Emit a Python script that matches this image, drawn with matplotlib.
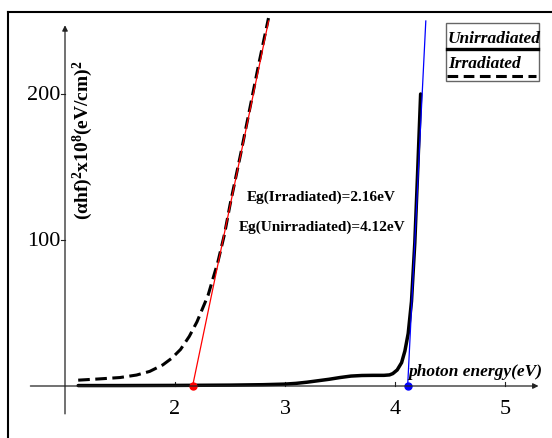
import numpy as np
import matplotlib
matplotlib.use("Agg")
import matplotlib.pyplot as plt
from matplotlib.lines import Line2D
from matplotlib.patches import Rectangle

plt.rcParams['font.family'] = ['Liberation Serif', 'DejaVu Serif']
plt.rcParams['mathtext.fontset'] = 'custom'
plt.rcParams['mathtext.rm'] = 'Liberation Serif'
plt.rcParams['mathtext.bf'] = 'Liberation Serif:bold'
plt.rcParams['mathtext.it'] = 'Liberation Serif:italic'

# данные
irr_x = [1.12, 1.3, 1.5, 1.65, 1.77, 1.89, 1.97, 2.05, 2.13, 2.2, 2.3, 2.39, 2.45, 2.5, 2.6, 2.68, 2.76, 2.85]
irr_y = [4.0, 4.8, 5.8, 7.5, 10, 14.5, 19, 25, 34, 44, 62, 85, 104, 124, 160, 190, 220, 252]

unirr_x = [1.12, 1.5, 2.0, 2.5, 2.8, 3.0, 3.1, 3.2, 3.3, 3.4, 3.5, 3.6, 3.7, 3.8, 3.9, 3.95, 3.98,
           4.02, 4.06, 4.09, 4.12, 4.15, 4.18, 4.205, 4.233]
unirr_y = [0.3, 0.3, 0.4, 0.6, 0.9, 1.3, 1.8, 2.6, 3.6, 4.6, 5.8, 6.8, 7.2, 7.3, 7.3, 7.6, 8.5,
           11, 16, 24, 36, 58, 98, 145, 200]

eg_irr = 2.16
eg_unirr = 4.115
slope_irr = 362.0
slope_unirr = 1515.0

x_ticks = [2, 3, 4, 5]
y_ticks = [100, 200]

W, H = 552, 439
fig = plt.figure(figsize=(W / 100, H / 100), dpi=100)
ax = fig.add_axes([0, 0, 1, 1])
# пиксели: x = 175 + (x-2)*110, y = 387 - y*1.46
ax.set_xlim(2 - 175 / 110, 2 + (W - 175) / 110)
ax.set_ylim(-(H - 387) / 1.46, 387 / 1.46)
ax.axis('off')


def fx(px):
    return px / W


def fy(py):
    return 1 - py / H


# рамка (только верх и лево)
fig.add_artist(Line2D([fx(8), fx(552)], [fy(13), fy(13)], color='black', lw=1.5))
fig.add_artist(Line2D([fx(8), fx(8)], [fy(13), fy(439)], color='black', lw=1.5))

# оси
axc = '#222222'
ax.annotate('', xy=(5.33, 0), xytext=(0.66, 0),
            arrowprops=dict(arrowstyle='-|>', color=axc, lw=0.9, mutation_scale=8))
ax.annotate('', xy=(1.0, 249), xytext=(1.0, -21),
            arrowprops=dict(arrowstyle='-|>', color=axc, lw=0.9, mutation_scale=8))
for t in x_ticks:
    ax.plot([t, t], [0, 2.5], color=axc, lw=0.8)
    ax.text(t, -9, str(t), ha='center', va='top', fontsize=16)
for t in y_ticks:
    ax.plot([0.965, 1.0], [t, t], color=axc, lw=0.8)
    ax.text(0.96, t, str(t), ha='right', va='center', fontsize=16)

# кривые
ax.plot(irr_x, irr_y, color='black', lw=2.2, ls=(0, (3.8, 1.8)))
ax.plot(unirr_x, unirr_y, color='black', lw=2.5, solid_capstyle='round')

# касательные
ax.plot([eg_irr, eg_irr + 250 / slope_irr], [0, 250], color='red', lw=0.9)
ax.plot([eg_unirr, eg_unirr + 250 / slope_unirr], [0, 250], color='blue', lw=0.9)
ax.plot([eg_irr], [0], 'o', color='red', ms=5)
ax.plot([eg_unirr], [0], 'o', color='blue', ms=5)

# подписи
ax.text(4.12, 4.5, 'photon energy(eV)', fontsize=12.5, fontweight='bold', fontstyle='italic',
        ha='left', va='bottom')
fig.text(fx(321), fy(197), 'Eg(Irradiated)=2.16eV', fontsize=11, fontweight='bold',
         ha='center', va='center')
fig.text(fx(322), fy(227), 'Eg(Unirradiated)=4.12eV', fontsize=11, fontweight='bold',
         ha='center', va='center')
fig.text(fx(83), fy(140), r'(αhf)$^{\mathbf{2}}$x10$^{\mathbf{8}}$(eV/cm)$^{\mathbf{2}}$',
         fontsize=14, fontweight='bold', rotation=90, ha='center', va='center')

# легенда
fig.add_artist(Rectangle((fx(446), fy(82)), fx(539) - fx(446), fy(24) - fy(82),
                         fill=False, edgecolor='#666666', lw=1))
fig.text(fx(448), fy(39), 'Unirradiated', fontsize=12.5, fontweight='bold', fontstyle='italic',
         ha='left', va='center')
fig.add_artist(Line2D([fx(447), fx(538)], [fy(50), fy(50)], color='black', lw=2.4))
fig.text(fx(448), fy(64), 'Irradiated', fontsize=12.5, fontweight='bold', fontstyle='italic',
         ha='left', va='center')
fig.add_artist(Line2D([fx(447), fx(536)], [fy(77), fy(77)], color='black', lw=2.2,
                      ls=(0, (3.5, 1.8))))

fig.savefig('out.png', dpi=100)
